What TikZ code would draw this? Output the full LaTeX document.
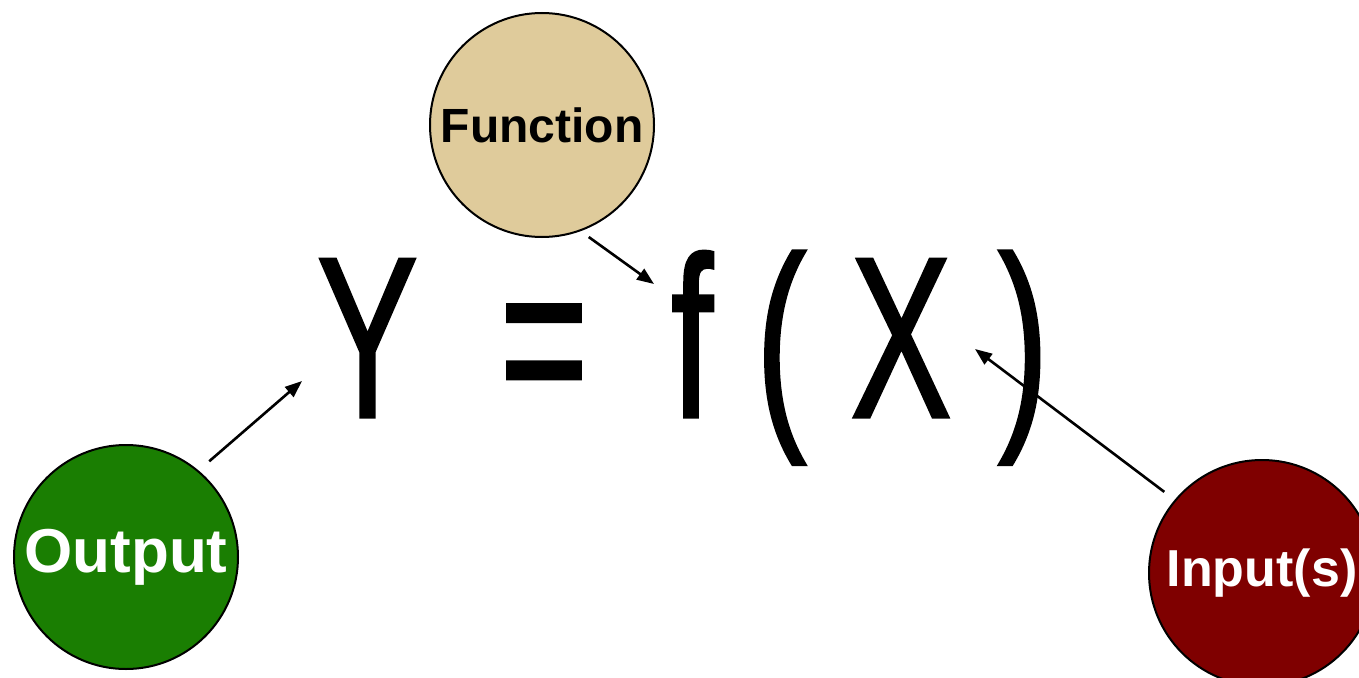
\documentclass[tikz,border=0pt]{standalone}
\usepackage{fontspec}
\usepackage{graphicx}
\setmainfont{Liberation Sans}
\newfontfamily\formulafont{Liberation Sans}[FakeBold=1.5]
\usetikzlibrary{arrows.meta}
\definecolor{FnTan}{HTML}{DFCB9B}
\definecolor{FnGreen}{HTML}{1A7E02}
\definecolor{FnMaroon}{HTML}{7F0000}
\tikzset{
  fnCircle/.style={
    circle,
    draw=black,
    line width=2pt,
    minimum size=224pt,
    inner sep=0pt
  },
  fnFunc/.style={
    fnCircle,
    fill=FnTan,
    text=black,
    font=\fontsize{48pt}{50pt}\selectfont\bfseries
  },
  fnOut/.style={
    fnCircle,
    fill=FnGreen,
    text=white,
    font=\fontsize{62pt}{64pt}\selectfont\bfseries
  },
  fnIn/.style={
    fnCircle,
    fill=FnMaroon,
    text=white,
    font=\fontsize{52pt}{54pt}\selectfont\bfseries
  },
  fnGlyph/.style={
    anchor=base,
    inner sep=0pt,
    font=\formulafont\fontsize{229pt}{229pt}\selectfont
  },
  fnArrow/.style={
    line width=2.6pt,
    -{Triangle[length=17pt,width=13pt]}
  }
}

\begin{document}
\begin{tikzpicture}[x=1pt, y=-1pt]
  \useasboundingbox (0,0) rectangle (1359,677);

  % the formula
  \node (gY)  [fnGlyph] at (367.5,417) {\scalebox{0.66}[1]{Y}};
  \node (gEq) [fnGlyph] at (544,417)   {\scalebox{0.66}[1]{=}};
  \node (gF)  [fnGlyph] at (692,417)   {\scalebox{0.66}[1]{f}};
  \node (gLp) [fnGlyph] at (781,417)   {\scalebox{0.66}[1]{(}};
  \node (gX)  [fnGlyph] at (901,417)   {\scalebox{0.66}[1]{X}};
  \node (gRp) [fnGlyph] at (1023.5,417){\scalebox{0.66}[1]{)}};

  % the three labels
  \node (cFunc) [fnFunc] at (542,125)  {Function};
  \node (cOut)  [fnOut]  at (126,557)  {\raisebox{-6pt}{Output}};
  \node (cIn)   [fnIn, minimum size=226pt] at (1262,573) {\raisebox{-3pt}{Input(s)}};

  \coordinate (tipY) at (302,381);
  \coordinate (tipF) at (654,284);
  \coordinate (tipX) at (975,349);

  \draw [fnArrow, shorten <=14pt] (cOut.50.5) -- (tipY);
  \draw [fnArrow, shorten <=10pt] (cFunc.-70) -- (tipF);
  \draw [fnArrow, shorten <=13pt] (cIn.140) -- (tipX);
\end{tikzpicture}
\end{document}
